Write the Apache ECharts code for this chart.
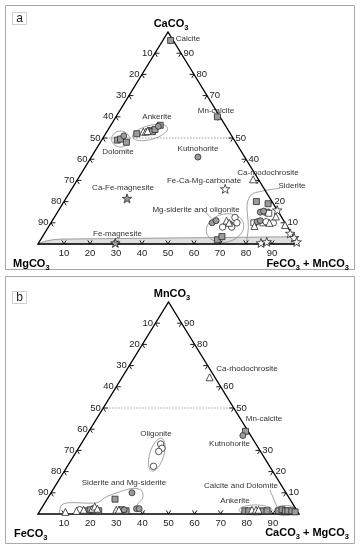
<!DOCTYPE html>
<html><head><meta charset="utf-8">
<script src="https://cdn.jsdelivr.net/npm/echarts@6/dist/echarts.min.js"></script>
<style>html,body{margin:0;padding:0;background:#fff;}#chart{width:361px;height:550px;}</style>
</head><body><div id="chart"></div>
<script>
const FONT = '"Liberation Sans", Arial, Helvetica, sans-serif';

// ================= DATA =================
// ternary compositions in %: [top, right, left]
// panel a: top = CaCO3, right = FeCO3 + MnCO3, left = MgCO3
// panel b: top = MnCO3, right = CaCO3 + MgCO3, left = FeCO3
const tickValues = [10, 20, 30, 40, 50, 60, 70, 80, 90];
const baseTickLabels = ['10', '20', '30', '40', '50', '60', '70', '80', '90'];
const leftTickLabels = ['10', '20', '30', '40', '50', '60', '70', '80', '90'];
const rightTickLabelsA = ['10', '20', '', '40', '50', '', '70', '80', '90'];
const rightTickLabelsB = ['10', '20', '30', '', '50', '60', '', '80', '90'];
const vertexLabelsA = ['CaCO3', 'MgCO3', 'FeCO3 + MnCO3'];
const vertexLabelsB = ['MnCO3', 'FeCO3', 'CaCO3 + MgCO3'];
const panelLetters = ['a', 'b'];

const mineralNamesA = ['Calcite', 'Ankerite', 'Dolomite', 'Mn-calcite', 'Kutnohorite', 'Ca-Fe-magnesite',
  'Fe-Ca-Mg-carbonate', 'Ca-rhodochrosite', 'Siderite', 'Mg-siderite and oligonite', 'Fe-magnesite'];
const mineralNamesB = ['Ca-rhodochrosite', 'Mn-calcite', 'Kutnohorite', 'Oligonite',
  'Siderite and Mg-siderite', 'Calcite and Dolomite', 'Ankerite'];

const aGraySquare = [[96,3,1],[60,39,1],[52,12,36],[53.5,16.5,30],[53,17.5,29.5],[54,18,28],[56,19,25],
  [49,6,45],[49.5,7,43.5],[48,10,42],[20,74,6],[19,79,2],[15,80.5,4.5],[2,68,30],[3.5,69,27.5]];
const aWhiteSquare = [[14.5,81.5,4],[10,78,12],[10,81.5,8.5]];
const aGrayCircle = [[55.5,18.5,26],[51,7.5,41.5],[41,41,18],[15,78,7],[15.5,79,5.5],[10.5,79,10.5],
  [11,80,9],[10,62,28],[11,63,26],[9.5,69,21.5]];
const aWhiteCircle = [[10.5,82.5,7],[10,85.5,4.5],[12.5,69.5,18],[10,71.5,18.5],[8,70.5,21.5],[8,67,25]];
const aWhiteTriangle = [[53,14,33],[53,15,32],[53.3,15.5,31.2],[30.5,67.5,2],[13,85,2],[8.5,79,12.5],
  [10,84,6],[9,90.5,0.5],[11,67,22],[10,68.5,21.5]];
const aWhiteStar = [[26,59,15],[16,84,0],[5,94.5,0.5],[3,97,0],[1,99,0],[0.5,85.5,14],[1,87.5,11.5]];
const aGrayStar = [[21.5,23.5,55],[0.5,29.5,70]];

const bGraySquare = [[39,60,1],[1.5,18,80.5],[2,19,79],[1.5,22.5,76],[2,31,67],[1.5,33,65.5],[7,26,67],
  [1.5,78.5,20],[1.5,80,18.5],[1.5,85.5,13],[1.5,87,11.5],[1.5,91.5,7],[2,92.5,5.5],[1.5,94,4.5],
  [1.5,95,3.5],[1.5,96.5,2],[1,98,1]];
const bGrayCircle = [[37,60,3],[2,32,66],[2.5,36.5,61],[2.5,37.5,60],[10,31,59]];
const bWhiteCircle = [[33,30.5,36.5],[31,32,37],[29.5,31.5,39],[22.5,33,44.5],[2,15,83]];
const bWhiteTriangle = [[64.5,33.5,2],[1,10,89],[1.5,14,84.5],[2,16.5,81.5],[2.5,19.5,78],[3.5,20,76.5],
  [2.5,21.5,76],[2,29,69],[2,30,68],[2,81,17],[2,82.5,15.5],[2,83.5,14.5]];

// ================= ANNOTATION SHAPES (ternary [top, right]) =================
const bandA = [[0,0],[0.8,1.1],[1.5,2.7],[2.0,4.7],[2.3,7.3],[3.4,94],[3.5,96.5],[0,100]];
const sideriteOutlineA = [[1.2,79.6],[8.2,76.8],[18.9,71],[23.4,70.5],[24.7,73],[25.5,75.8],[26.3,79.9]];
const leadersA = [[[15.2,56.6],[12.1,60.8]]];
const ellipsesA = [
  {at:[52.6,16.8], rx:18, ry:7, rot:-15},
  {at:[49.5,7], rx:9, ry:8, rot:0},
  {at:[7.5,68.2], rx:19, ry:14, rot:-15}
];
const sideriteOutlineB = [[0.3,8],[4.25,7],[5.33,9.6],[5.33,19.8],[8.16,22.2],[10.5,26.2],[12.1,30.5],
  [11,34.2],[7.4,36.4],[4.25,35.9],[1.9,38.8],[0.3,40.8]];
const leadersB = [[[11.3,83.2],[3.5,89.8]]];
const ellipsesB = [
  {at:[28,31.5], rx:7, ry:17, rot:17},
  {at:[1.9,82.4], rx:16.5, ry:5, rot:0},
  {at:[1.65,94], rx:11.5, ry:5, rot:0}
];

// ================= LAYOUT =================
const mineralPosA = [[188,39],[157,116.5],[118,152],[216,111],[198,149],[123,188],[204,181],[268,173],
  [292,186],[196,209.5],[117.5,234]];
const mineralPosB = [[247,369],[264,418.5],[229.5,443.5],[156,434],[124,483],[241,486],[235,501]];

const tx = p => [p[1] + p[0] / 2, p[0]];

function frameSeries(gi, opt) {
  return {
    type: 'custom', xAxisIndex: gi, yAxisIndex: gi, silent: true, z: 1, clip: false,
    data: [[0, 0]],
    renderItem: function (params, api) {
      const c = p => api.coord(tx(p));
      const ch = [];
      if (opt.band) {
        ch.push({type: 'polygon', shape: {points: opt.band.map(c)},
          style: {fill: '#dedede', stroke: '#8a8a8a', lineWidth: 0.8}});
      }
      const d1 = c([50, 0]), d2 = c([50, 50]);
      ch.push({type: 'line', shape: {x1: d1[0], y1: d1[1], x2: d2[0], y2: d2[1]},
        style: {stroke: '#8a8a8a', lineWidth: 0.8, lineDash: [1.5, 1.5]}});
      // outlines
      [opt.outline].forEach(o => {
        ch.push({type: 'polyline', shape: {points: o.map(c), smooth: 0.35},
          style: {fill: null, stroke: '#8a8a8a', lineWidth: 0.8}});
      });
      opt.leaders.forEach(l => {
        const a = c(l[0]), b = c(l[1]);
        ch.push({type: 'line', shape: {x1: a[0], y1: a[1], x2: b[0], y2: b[1]},
          style: {stroke: '#8a8a8a', lineWidth: 0.8}});
      });
      opt.ellipses.forEach(e => {
        const ctr = c(e.at), r = e.rot * Math.PI / 180, pts = [];
        for (let k = 0; k < 60; k++) {
          const th = k / 60 * Math.PI * 2;
          const ex = e.rx * Math.cos(th), ey = e.ry * Math.sin(th);
          pts.push([ctr[0] + ex * Math.cos(r) - ey * Math.sin(r), ctr[1] + ex * Math.sin(r) + ey * Math.cos(r)]);
        }
        ch.push({type: 'polygon', shape: {points: pts}, style: {fill: null, stroke: '#8a8a8a', lineWidth: 0.8}});
      });
      // triangle
      const A = c([100, 0]), R = c([0, 100]), L = c([0, 0]);
      ch.push({type: 'polygon', shape: {points: [A, R, L]}, style: {fill: null, stroke: '#000', lineWidth: 1.4}});
      // ticks and labels
      const d = 1.7;
      const seg = (p, q) => { const a = c(p), b = c(q);
        ch.push({type: 'line', shape: {x1: a[0], y1: a[1], x2: b[0], y2: b[1]}, style: {stroke: '#000', lineWidth: 0.9}}); };
      const txt = (x, y, s, align) => ch.push({type: 'text', x: x, y: y,
        style: {text: s, font: '9.5px ' + FONT, fill: '#222', align: align, verticalAlign: 'middle',
          textAlign: align, textVerticalAlign: 'middle'}});
      tickValues.forEach((v, i) => {
        // base
        seg([0, v], [d, v - d]); seg([0, v], [d, v]);
        const pb = c([0, v]); txt(pb[0], pb[1] + 9, baseTickLabels[i], 'center');
        // left edge (label = left component)
        const t = 100 - v;
        seg([t, 0], [t, d]); seg([t, 0], [t - d, d]);
        const pl = c([t, 0]); txt(pl[0] - 2.5, pl[1], leftTickLabels[i], 'right');
        // right edge (label = top component)
        seg([v, 100 - v], [v, 100 - v - d]); seg([v, 100 - v], [v - d, 100 - v]);
        const pr = c([v, 100 - v]); txt(pr[0] + 2.5, pr[1], opt.rightLabels[i], 'left');
      });
      return {type: 'group', children: ch};
    }
  };
}

const starPath = 'path://M0,-10 L2.35,-3.24 L9.51,-3.09 L3.8,1.24 L5.88,8.09 L0,4 L-5.88,8.09 L-3.8,1.24 L-9.51,-3.09 L-2.35,-3.24 Z';
function sc(gi, data, symbol, fill, size) {
  return {type: 'scatter', xAxisIndex: gi, yAxisIndex: gi, data: data.map(tx), symbol: symbol,
    symbolSize: size, symbolKeepAspect: true, clip: false, silent: true, z: 5,
    itemStyle: {color: fill, borderColor: '#2a2a2a', borderWidth: 0.8, opacity: 1}};
}

const GRAY = '#9c9c9c', WHITE = '#ffffff';
const series = [
  frameSeries(0, {band: bandA, outline: sideriteOutlineA, leaders: leadersA, ellipses: ellipsesA, rightLabels: rightTickLabelsA}),
  frameSeries(1, {band: null, outline: sideriteOutlineB, leaders: leadersB, ellipses: ellipsesB, rightLabels: rightTickLabelsB}),
  sc(0, aGraySquare, 'rect', GRAY, 6),
  sc(0, aWhiteSquare, 'rect', WHITE, 6),
  sc(0, aGrayCircle, 'circle', GRAY, 6),
  sc(0, aWhiteCircle, 'circle', WHITE, 6.5),
  sc(0, aWhiteTriangle, 'triangle', WHITE, 7),
  sc(0, aWhiteStar, starPath, WHITE, 9.5),
  sc(0, aGrayStar, starPath, GRAY, 9.5),
  sc(1, bGraySquare, 'rect', GRAY, 6),
  sc(1, bGrayCircle, 'circle', GRAY, 6),
  sc(1, bWhiteCircle, 'circle', WHITE, 6.5),
  sc(1, bWhiteTriangle, 'triangle', WHITE, 7)
];

function rich(label) {
  return '{m|' + label.replace(/(\d)/g, '}{s|$1}{m|') + '}';
}
const richStyle = {
  m: {font: 'bold 11px ' + FONT, fill: '#000', lineHeight: 13, verticalAlign: 'bottom'},
  s: {font: 'bold 7.5px ' + FONT, fill: '#000', lineHeight: 8, verticalAlign: 'bottom', padding: [0, 0, -2, 0]}
};
function vLabel(text, x, y, align) {
  return {type: 'text', x: x, y: y, z: 10, silent: true,
    style: {text: rich(text), rich: richStyle, align: align, verticalAlign: 'middle',
      textAlign: align, textVerticalAlign: 'middle'}};
}
function mLabel(text, p) {
  return {type: 'text', x: p[0], y: p[1], z: 10, silent: true,
    style: {text: text, font: '8px ' + FONT, fill: '#333', align: 'center', verticalAlign: 'middle',
      textAlign: 'center', textVerticalAlign: 'middle'}};
}
const graphic = [
  {type: 'rect', shape: {x: 5.5, y: 5.5, width: 349, height: 264}, style: {fill: null, stroke: '#a8a8a8', lineWidth: 1}, silent: true},
  {type: 'rect', shape: {x: 5.5, y: 276.5, width: 349, height: 267}, style: {fill: null, stroke: '#a8a8a8', lineWidth: 1}, silent: true},
  {type: 'rect', shape: {x: 12.5, y: 12.5, width: 14, height: 12}, style: {fill: '#fff', stroke: '#cfcfcf', lineWidth: 1}, silent: true},
  {type: 'rect', shape: {x: 12.5, y: 291.5, width: 14, height: 12}, style: {fill: '#fff', stroke: '#cfcfcf', lineWidth: 1}, silent: true},
  {type: 'text', x: 19.5, y: 18.5, style: {text: panelLetters[0], font: '12px ' + FONT, fill: '#222', align: 'center', verticalAlign: 'middle', textAlign: 'center', textVerticalAlign: 'middle'}, silent: true},
  {type: 'text', x: 19.5, y: 297.5, style: {text: panelLetters[1], font: '12px ' + FONT, fill: '#222', align: 'center', verticalAlign: 'middle', textAlign: 'center', textVerticalAlign: 'middle'}, silent: true},
  vLabel(vertexLabelsA[0], 171, 23, 'center'),
  vLabel(vertexLabelsA[1], 13, 263, 'left'),
  vLabel(vertexLabelsA[2], 349, 263, 'right'),
  vLabel(vertexLabelsB[0], 172, 293, 'center'),
  vLabel(vertexLabelsB[1], 14, 533, 'left'),
  vLabel(vertexLabelsB[2], 349, 532, 'right')
];
mineralNamesA.forEach((n, i) => graphic.push(mLabel(n, mineralPosA[i])));
mineralNamesB.forEach((n, i) => graphic.push(mLabel(n, mineralPosB[i])));

const axisOff = {type: 'value', min: 0, max: 100, show: false};
const chart = echarts.init(document.getElementById('chart'), null, {renderer: 'canvas'});
chart.setOption({
  animation: false,
  backgroundColor: '#fff',
  grid: [
    {left: 38, top: 32, width: 260, height: 212},
    {left: 38, top: 302, width: 261, height: 212}
  ],
  xAxis: [Object.assign({gridIndex: 0}, axisOff), Object.assign({gridIndex: 1}, axisOff)],
  yAxis: [Object.assign({gridIndex: 0}, axisOff), Object.assign({gridIndex: 1}, axisOff)],
  series: series,
  graphic: graphic
});
</script>
</body></html>
